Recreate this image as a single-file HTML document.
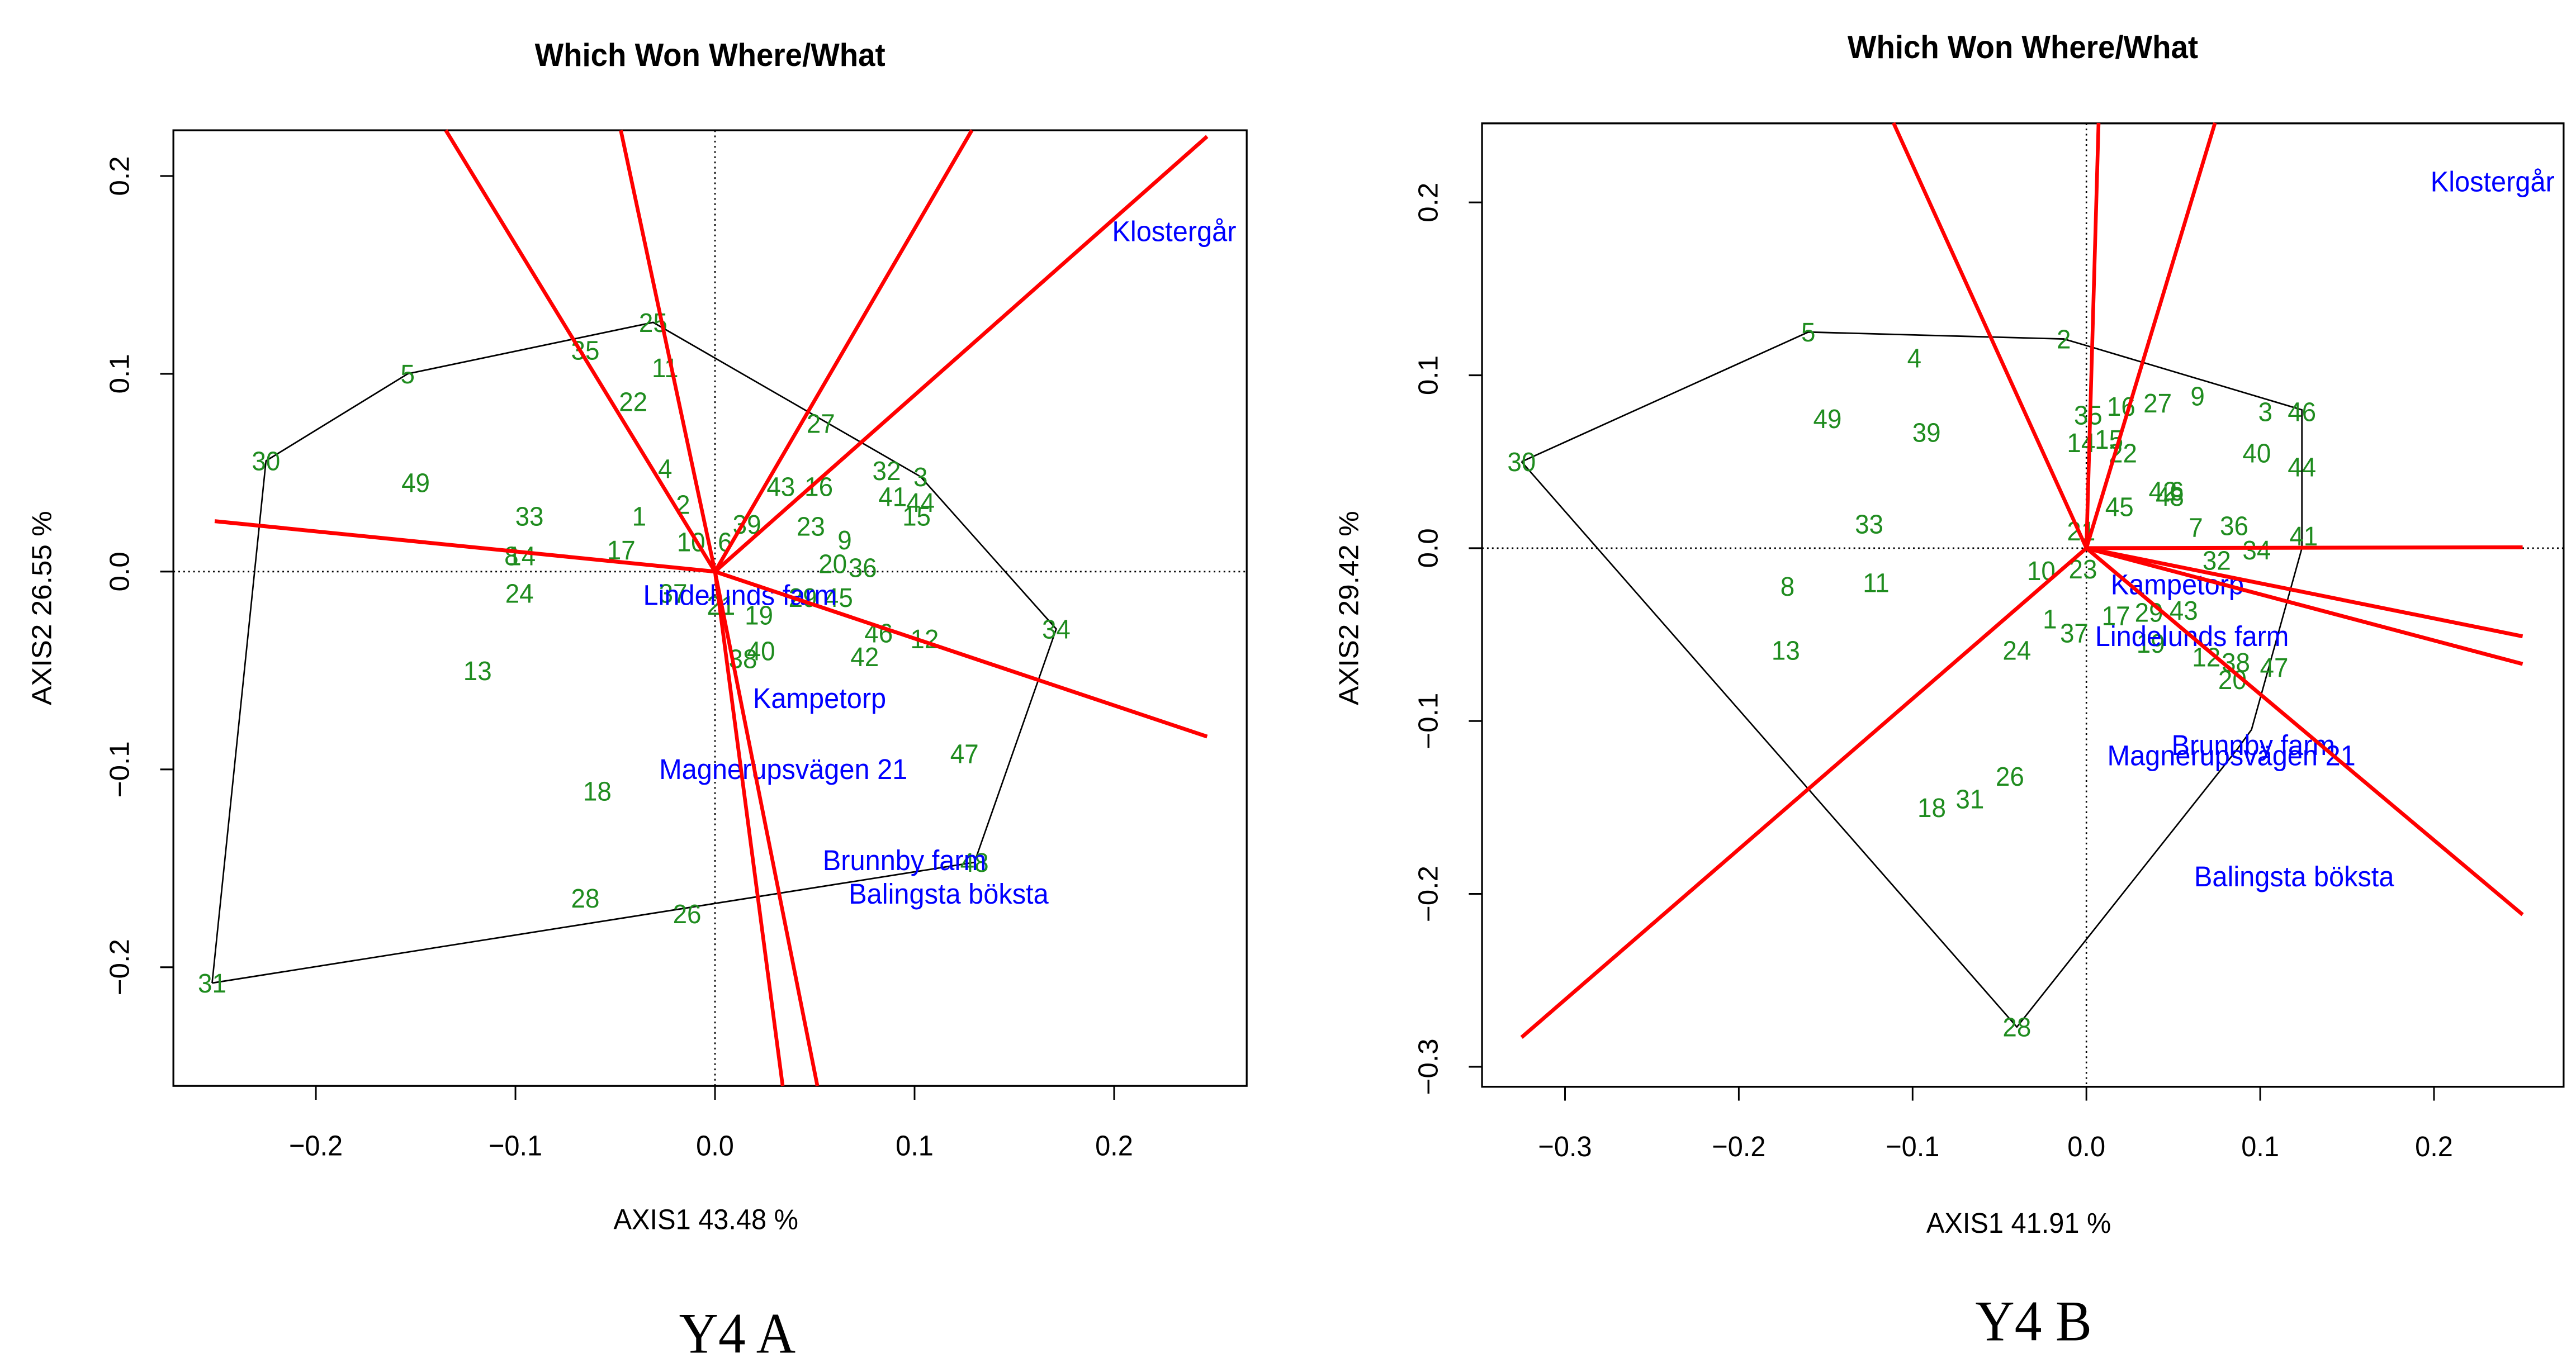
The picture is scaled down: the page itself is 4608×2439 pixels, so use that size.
<!DOCTYPE html>
<html><head><meta charset="utf-8">
<style>
html,body{margin:0;padding:0;background:#fff;}
body{width:4608px;height:2439px;overflow:hidden;display:flex;}
svg{display:block;}
text{font-family:"Liberation Sans",Arial,sans-serif;}
</style></head>
<body>
<svg id="plotA" width="2304" height="2439" viewBox="0 0 1560 1569" preserveAspectRatio="none"></svg>
<svg id="plotB" width="2304" height="2439" viewBox="0 0 1560 1569" preserveAspectRatio="none"></svg>
<script>
// ---------- Plot A data ----------
const aLabels = ["25","35","11","5","22","27","30","4","32","3","49","43","16","2","41","44","15","33","1","39","23","9","10","6","17","8","14","20","36","24","37","21","19","45","29","46","12","40","38","42","34","13","47","18","48","28","26","31"];
const aX = [-0.031,-0.065,-0.025,-0.154,-0.041,0.053,-0.225,-0.025,0.086,0.103,-0.150,0.033,0.052,-0.016,0.089,0.103,0.101,-0.093,-0.038,0.016,0.048,0.065,-0.012,0.005,-0.047,-0.102,-0.097,0.059,0.074,-0.098,-0.021,0.003,0.022,0.062,0.044,0.082,0.105,0.023,0.014,0.075,0.171,-0.119,0.125,-0.059,0.130,-0.065,-0.014,-0.252];
const aY = [0.126,0.112,0.103,0.100,0.086,0.075,0.056,0.052,0.051,0.048,0.045,0.043,0.043,0.034,0.038,0.035,0.028,0.028,0.028,0.024,0.023,0.016,0.015,0.015,0.011,0.008,0.008,0.004,0.002,-0.011,-0.011,-0.017,-0.022,-0.013,-0.013,-0.031,-0.034,-0.040,-0.044,-0.043,-0.029,-0.050,-0.092,-0.111,-0.147,-0.165,-0.173,-0.208];
const aHull = ["31","30","5","25","3","34","48","31"];
const aRayX = [-0.2507,-0.1349,-0.0472,0.1287,0.2466,0.2466,0.0339,0.0513];
const aRayY = [0.0255,0.2231,0.2231,0.2231,0.2200,-0.0834,-0.260,-0.260];
const aEnvNames = ["Klostergår","Lindelunds farm","Kampetorp","Magnerupsvägen 21","Brunnby farm","Balingsta böksta"];
const aEnvX = [0.199,-0.036,0.019,-0.028,0.054,0.067];
const aEnvY = [0.172,-0.012,-0.064,-0.100,-0.146,-0.163];
const aXTicks = [-0.2,-0.1,0.0,0.1,0.2];
const aYTicks = [-0.2,-0.1,0.0,0.1,0.2];

// ---------- Plot B data ----------
const bLabels = ["5","2","4","30","49","39","35","16","27","9","3","46","14","15","22","40","44","42","6","45","48","33","7","36","41","21","32","34","10","23","8","11","17","29","43","1","37","19","13","24","12","38","47","20","26","31","18","28"];
const bX = [-0.160,-0.013,-0.099,-0.325,-0.149,-0.092,0.001,0.020,0.041,0.064,0.103,0.124,-0.003,0.013,0.021,0.098,0.124,0.044,0.052,0.019,0.048,-0.125,0.063,0.085,0.125,-0.003,0.075,0.098,-0.026,-0.002,-0.172,-0.121,0.017,0.036,0.056,-0.021,-0.007,0.037,-0.173,-0.040,0.069,0.086,0.108,0.084,-0.044,-0.067,-0.089,-0.040];
const bY = [0.125,0.121,0.110,0.050,0.075,0.067,0.077,0.082,0.084,0.088,0.079,0.079,0.061,0.063,0.055,0.055,0.047,0.033,0.033,0.024,0.030,0.014,0.012,0.013,0.007,0.010,-0.007,-0.001,-0.013,-0.012,-0.022,-0.020,-0.039,-0.037,-0.036,-0.041,-0.049,-0.055,-0.059,-0.059,-0.063,-0.066,-0.069,-0.076,-0.132,-0.145,-0.150,-0.277];
const bHullX = [-0.325,-0.160,-0.013,0.004,0.124,0.124,0.095,0.087,-0.040,-0.325];
const bHullY = [0.050,0.125,0.121,0.116,0.080,0.000,-0.105,-0.116,-0.277,0.050];
const bRayX = [-0.111,0.007,0.074,0.251,0.251,0.251,0.251,-0.325];
const bRayY = [0.246,0.246,0.246,0.0005,-0.051,-0.067,-0.212,-0.283];
const bEnvNames = ["Klostergår","Kampetorp","Lindelunds farm","Brunnby farm","Magnerupsvägen 21","Balingsta böksta"];
const bEnvX = [0.198,0.014,0.005,0.049,0.012,0.062];
const bEnvY = [0.212,-0.021,-0.051,-0.114,-0.120,-0.190];
const bXTicks = [-0.3,-0.2,-0.1,0.0,0.1,0.2];
const bYTicks = [-0.3,-0.2,-0.1,0.0,0.1,0.2];

const NS = "http://www.w3.org/2000/svg";
function mk(parent, tag, attrs, txt){
  const e = document.createElementNS(NS, tag);
  for (const k in attrs) e.setAttribute(k, attrs[k]);
  if (txt !== undefined) e.textContent = txt;
  parent.appendChild(e);
  return e;
}
function fmt(v){ return (v<0?"\u22120.":"0.") + Math.round(Math.abs(v)*10); }

function build(cfg){
  const svg = document.getElementById(cfg.id);
  const sx = v => cfg.x0 + v*cfg.kx;
  const sy = v => cfg.y0 - v*cfg.ky;
  const F = cfg.frame;
  const t = mk(svg,"text",{x:cfg.titleX,y:cfg.titleY,"text-anchor":"middle","font-size":37,"font-weight":"bold"},"Which Won Where/What");
  
  
  const fr = mk(svg,"rect",{x:F[0],y:F[1],width:F[2]-F[0],height:F[3]-F[1],fill:"none",stroke:"#000","stroke-width":2.2});
  
  
  const vl = mk(svg,"line",{x1:sx(0),y1:F[1],x2:sx(0),y2:F[3],stroke:"#000","stroke-width":1.8,"stroke-dasharray":"2,4"});
  
  
  const hl = mk(svg,"line",{x1:F[0],y1:sy(0),x2:F[2],y2:sy(0),stroke:"#000","stroke-width":1.8,"stroke-dasharray":"2,4"});
  
  
  const xa = mk(svg,"line",{x1:sx(cfg.xT[0]),y1:F[3],x2:sx(cfg.xT[cfg.xT.length-1]),y2:F[3],stroke:"#000","stroke-width":2});
  
  
  cfg.xT.forEach(v=>{
    const tk = mk(svg,"line",{x1:sx(v),y1:F[3],x2:sx(v),y2:F[3]+16,stroke:"#000","stroke-width":2});
    
    
    const tl = mk(svg,"text",{x:sx(v),y:F[3]+80,"text-anchor":"middle","font-size":33},fmt(v));
    
    
  });
  cfg.yT.forEach(v=>{
    const tk = mk(svg,"line",{x1:F[0],y1:sy(v),x2:F[0]-16,y2:sy(v),stroke:"#000","stroke-width":2});
    
    
    const tl = mk(svg,"text",{x:0,y:0,"text-anchor":"middle","font-size":33,transform:`translate(${F[0]-54},${sy(v)}) rotate(-90)`},fmt(v));
    
    
  });
  const xt = mk(svg,"text",{x:cfg.xTitle[0],y:cfg.xTitle[1],"text-anchor":"middle","font-size":33},cfg.xTitleText);
  
  
  const yt = mk(svg,"text",{x:0,y:0,"text-anchor":"middle","font-size":33,transform:`translate(${cfg.yTitle[0]},${cfg.yTitle[1]}) rotate(-90)`},cfg.yTitleText);
  
  
  let hx = cfg.hullX, hy = cfg.hullY;
  if (cfg.hull){
    hx = cfg.hull.map(l=>cfg.px[cfg.labels.indexOf(l)]);
    hy = cfg.hull.map(l=>cfg.py[cfg.labels.indexOf(l)]);
  }
  const hp = mk(svg,"polyline",{points:hx.map((x,i)=>sx(x)+","+sy(hy[i])).join(" "),fill:"none",stroke:"#000","stroke-width":1.8});
  
  
  cfg.labels.forEach((l,i)=>{
    const p = mk(svg,"text",{x:sx(cfg.px[i]),y:sy(cfg.py[i]),"text-anchor":"middle","dominant-baseline":"central","font-size":31,fill:"#1f8c1f"},l);
    
    
  });
  cfg.envN.forEach((n,i)=>{
    const e = mk(svg,"text",{x:sx(cfg.envX[i]),y:sy(cfg.envY[i]),"dominant-baseline":"central","font-size":33,fill:"#0000ff"},n);
    
    
  });
  cfg.rayX.forEach((x,i)=>{
    const r = mk(svg,"line",{x1:sx(0),y1:sy(0),x2:sx(x),y2:sy(cfg.rayY[i]),stroke:"#ff0000","stroke-width":4.5});
    
    
  });
  const c = mk(svg,"text",{x:cfg.cap[0],y:cfg.cap[1],"text-anchor":"middle","font-size":66,style:"font-family:'Liberation Serif',serif"},cfg.capText);
  
  
}

build({id:"plotA",x0:866,kx:2417,y0:658,ky:2277,frame:[210,150,1510,1250],
  titleX:860,titleY:76,xT:aXTicks,yT:aYTicks,
  xTitle:[855,1415],xTitleText:"AXIS1 43.48 %",yTitle:[62,700],yTitleText:"AXIS2 26.55 %",
  labels:aLabels,px:aX,py:aY,hull:aHull,rayX:aRayX,rayY:aRayY,
  envN:aEnvNames,envX:aEnvX,envY:aEnvY,cap:[893,1557],capText:"Y4 A"});
build({id:"plotB",x0:967,kx:2105,y0:631,ky:1990,frame:[235,142,1545,1251],
  titleX:890,titleY:67,xT:bXTicks,yT:bYTicks,
  xTitle:[885,1419],xTitleText:"AXIS1 41.91 %",yTitle:[85,700],yTitleText:"AXIS2 29.42 %",
  labels:bLabels,px:bX,py:bY,hullX:bHullX,hullY:bHullY,rayX:bRayX,rayY:bRayY,
  envN:bEnvNames,envX:bEnvX,envY:bEnvY,cap:[903,1543],capText:"Y4 B"});
</script>
</body></html>
